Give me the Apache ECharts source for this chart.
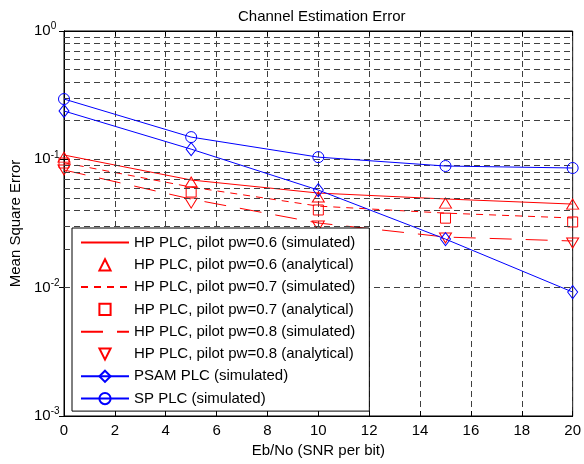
<!DOCTYPE html>
<html>
<head>
<meta charset="utf-8">
<script src="https://cdn.jsdelivr.net/npm/echarts@6/dist/echarts.min.js"></script>
<style>
html,body{margin:0;padding:0;background:#fff;}
#chart{width:584px;height:464px;}
</style>
</head>
<body>
<div id="chart"></div>
<script>
// ---- data ----
var snr = [0, 5, 10, 15, 20];
var hp06Sim = [0.108, 0.069, 0.0546, 0.0491, 0.0448];
var hp06Ana = [0.104, 0.0665, 0.0508, 0.0456, 0.0448];
var hp07Sim = [0.094, 0.0608, 0.0432, 0.0381, 0.0349];
var hp07Ana = [0.0936, 0.0556, 0.0403, 0.0348, 0.0325];
var hp08Sim = [0.0826, 0.049, 0.0319, 0.0248, 0.0231];
var hp08Ana = [0.0826, 0.0456, 0.0302, 0.0244, 0.0223];
var psam = [0.238, 0.120, 0.0576, 0.0239, 0.00924];
var sp = [0.295, 0.149, 0.104, 0.0887, 0.0856];
var seriesNames = [
  'HP PLC, pilot pw=0.6 (simulated)',
  'HP PLC, pilot pw=0.6 (analytical)',
  'HP PLC, pilot pw=0.7 (simulated)',
  'HP PLC, pilot pw=0.7 (analytical)',
  'HP PLC, pilot pw=0.8 (simulated)',
  'HP PLC, pilot pw=0.8 (analytical)',
  'PSAM PLC (simulated)',
  'SP PLC (simulated)'
];
var titleText = 'Channel Estimation Error';
var xName = 'Eb/No (SNR per bit)';
var yName = 'Mean Square Error';

// minor grid values for log axis
var minorVals = [];
[-3, -2, -1].forEach(function (d) {
  for (var k = 2; k <= 9; k++) minorVals.push(k * Math.pow(10, d));
});

function pts(arr) { return snr.map(function (x, i) { return [x, arr[i]]; }); }

var RED = '#ff0000', BLUE = '#0000ff', GRID = '#404040';
var FONT = 'Liberation Sans, Arial, sans-serif';
var FS = 15;
var hollow = function (c) { return { color: 'rgba(0,0,0,0)', borderColor: c, borderWidth: 1 }; };
var noMark = { color: 'rgba(0,0,0,0)', borderColor: 'rgba(0,0,0,0)', borderWidth: 0 };

var chart = echarts.init(document.getElementById('chart'), null, { renderer: 'canvas' });
var option = {
  animation: false,
  backgroundColor: '#fff',
  textStyle: { fontFamily: FONT },
  title: {
    text: titleText, left: 233, top: 4,
    textStyle: { fontFamily: FONT, fontSize: FS, fontWeight: 'normal', color: '#000' }
  },
  grid: { left: 62, right: 9, top: 31, bottom: 48, show: true, borderColor: '#000', borderWidth: 1, backgroundColor: 'transparent' },
  legend: {
    orient: 'vertical', left: 72, top: 228,
    padding: [7, 14, 5, 8],
    itemWidth: 48, itemHeight: 14, itemGap: 7.3,
    backgroundColor: '#fff', borderColor: '#000', borderWidth: 1,
    textStyle: { fontFamily: FONT, fontSize: FS, color: '#000', lineHeight: 15 },
    data: seriesNames, z: 10
  },
  xAxis: [{
    type: 'value', min: 0, max: 20, interval: 2,
    name: xName, nameLocation: 'middle', nameGap: 27,
    nameTextStyle: { fontFamily: FONT, fontSize: FS, color: '#000' },
    axisLine: { show: true, lineStyle: { color: '#000' } },
    axisTick: { inside: true, length: 5, lineStyle: { color: '#000' } },
    axisLabel: { fontFamily: FONT, fontSize: FS, color: '#000', margin: 7 },
    splitLine: { show: true, lineStyle: { color: GRID, type: [6, 4], width: 1 } }
  }, {
    type: 'value', min: 0, max: 20, interval: 2, position: 'top',
    axisLine: { show: true, lineStyle: { color: '#000' } },
    axisTick: { inside: true, length: 5, lineStyle: { color: '#000' } },
    axisLabel: { show: false }, splitLine: { show: false }
  }],
  yAxis: [{
    type: 'log', logBase: 10, min: 0.001, max: 1,
    name: yName, nameLocation: 'middle', nameGap: 41,
    nameTextStyle: { fontFamily: FONT, fontSize: FS, color: '#000' },
    axisLine: { show: true, lineStyle: { color: '#000' } },
    axisTick: { inside: true, length: 5, lineStyle: { color: '#000' } },
    axisLabel: {
      margin: 30, align: 'left', color: '#000',
      formatter: function (v) {
        var e = Math.round(Math.log10(v));
        return '{b|10}{s|' + e + '}';
      },
      rich: {
        b: { fontFamily: FONT, fontSize: FS, color: '#000' },
        s: { fontFamily: FONT, fontSize: 10, color: '#000', padding: [0, 0, 9, 0] }
      }
    },
    splitLine: { show: true, lineStyle: { color: GRID, type: [6, 4], width: 1 } }
  }, {
    type: 'log', logBase: 10, min: 0.001, max: 1, position: 'right',
    axisLine: { show: true, lineStyle: { color: '#000' } },
    axisTick: { inside: true, length: 5, lineStyle: { color: '#000' } },
    axisLabel: { show: false }, splitLine: { show: false }
  }],
  series: [
    {
      name: '_grid', type: 'line', data: [], silent: true, z: 1,
      markLine: {
        silent: true, symbol: ['none', 'none'], label: { show: false },
        lineStyle: { color: GRID, type: [6, 4], width: 1 },
        data: minorVals.map(function (v) { return { yAxis: v }; }),
        animation: false
      }
    },
    {
      name: seriesNames[0], type: 'line', data: pts(hp06Sim), symbol: 'none', z: 3,
      itemStyle: noMark, lineStyle: { color: RED, width: 1, type: 'solid' }
    },
    {
      name: seriesNames[1], type: 'line', data: pts(hp06Ana), symbol: 'triangle', symbolSize: [12, 10], z: 4,
      itemStyle: hollow(RED), lineStyle: { color: RED, opacity: 0, width: 0 }
    },
    {
      name: seriesNames[2], type: 'line', data: pts(hp07Sim), symbol: 'none', z: 3,
      itemStyle: noMark, lineStyle: { color: RED, width: 1, type: [7, 6] }
    },
    {
      name: seriesNames[3], type: 'line', data: pts(hp07Ana), symbol: 'rect', symbolSize: 10, z: 4,
      itemStyle: hollow(RED), lineStyle: { color: RED, opacity: 0, width: 0 }
    },
    {
      name: seriesNames[4], type: 'line', data: pts(hp08Sim), symbol: 'none', z: 3,
      itemStyle: noMark, lineStyle: { color: RED, width: 1, type: [22, 14] }
    },
    {
      name: seriesNames[5], type: 'line', data: pts(hp08Ana), symbol: 'triangle', symbolRotate: 180, symbolSize: [12, 10], z: 4,
      itemStyle: hollow(RED), lineStyle: { color: RED, opacity: 0, width: 0 }
    },
    {
      name: seriesNames[6], type: 'line', data: pts(psam), symbol: 'diamond', symbolSize: [10, 13], z: 5,
      itemStyle: hollow(BLUE), lineStyle: { color: BLUE, width: 1 }
    },
    {
      name: seriesNames[7], type: 'line', data: pts(sp), symbol: 'circle', symbolSize: 11, z: 5,
      itemStyle: hollow(BLUE), lineStyle: { color: BLUE, width: 1 }
    }
  ]
};
chart.setOption(option);
</script>
</body>
</html>
